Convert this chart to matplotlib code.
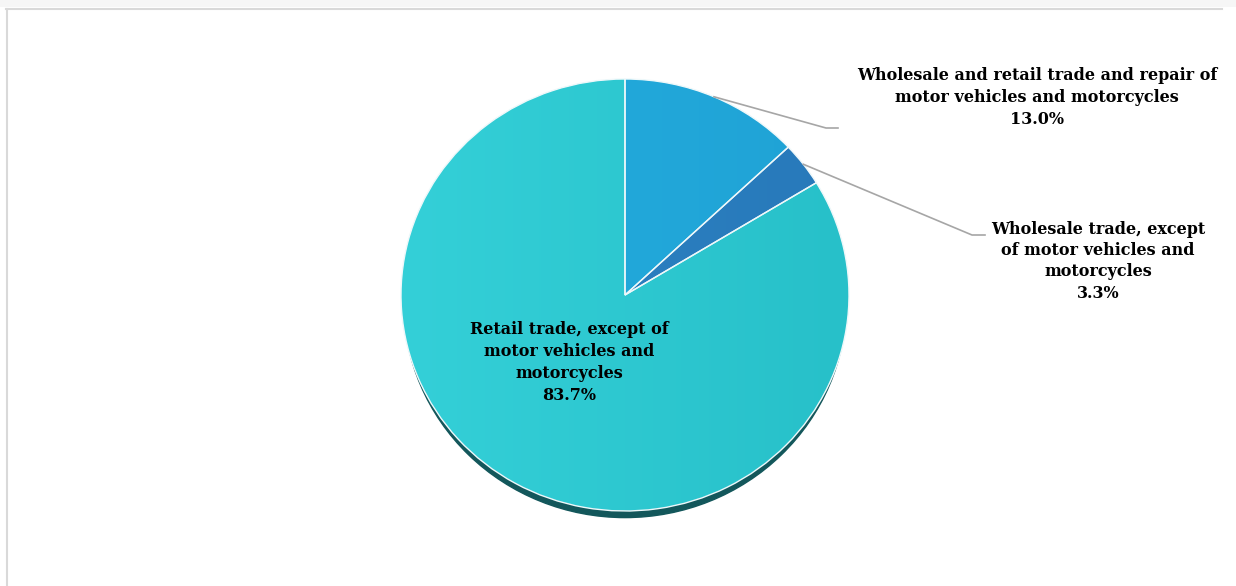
import matplotlib.pyplot as plt
import numpy as np
from matplotlib.patches import Ellipse

# shares of the trade sector, clockwise from 12 o'clock
names = [
    ["Wholesale and retail trade and repair of", "motor vehicles and motorcycles"],
    ["Wholesale trade, except", "of motor vehicles and", "motorcycles"],
    ["Retail trade, except of", "motor vehicles and", "motorcycles"],
]
shares = [13.0, 3.3, 83.7]
colors = ["#22a7da", "#2a7fbf", "#2dc7cf"]
# left / right shades for the soft gradient on each slice
shades = [("#25aedf", "#1fa2d5"), ("#2c84c4", "#2879ba"), ("#34d0d8", "#27c0c9")]

W, H = 1236, 586
fig = plt.figure(figsize=(W / 100, H / 100), dpi=100)

# background layer in pixel units (frame)
bg = fig.add_axes([0, 0, 1, 1])
bg.set_xlim(0, W)
bg.set_ylim(H, 0)
bg.axis("off")
bg.fill_between([0, W], 0, 7, color="#f6f6f6", lw=0)
bg.plot([6, 1222], [8.5, 8.5], color="#d9d9d9", lw=1.5)
bg.plot([6.5, 6.5], [8.5, H], color="#d9d9d9", lw=1.5)

# pie axes, slightly squashed ellipse
cx, cy, rx, ry = 625, 295, 224, 216
pad = 1.1
ax = fig.add_axes([(cx - rx * pad) / W, 1 - (cy + ry * pad) / H,
                   2 * rx * pad / W, 2 * ry * pad / H])
ax.add_patch(Ellipse((0, -0.038), 1.975, 1.985, color="#13575b", zorder=0))
wedges, _ = ax.pie(shares, colors=colors, startangle=90, counterclock=False,
                   radius=1, wedgeprops=dict(edgecolor="#eef8fa", linewidth=1))
for w, (c0, c1) in zip(wedges, shades):
    grad = np.linspace(0, 1, 256).reshape(1, -1)
    cmap = plt.matplotlib.colors.LinearSegmentedColormap.from_list("g", [c0, c1])
    im = ax.imshow(grad, cmap=cmap, extent=(-1, 1, -1, 1), aspect="auto", zorder=w.get_zorder())
    im.set_clip_path(w)
    w.set_facecolor("none")
    w.set_zorder(w.get_zorder() + 0.1)
ax.set_aspect("auto")
ax.set_xlim(-pad, pad)
ax.set_ylim(-pad, pad)
ax.axis("off")

# top layer for labels and leader lines
top = fig.add_axes([0, 0, 1, 1])
top.set_xlim(0, W)
top.set_ylim(H, 0)
top.axis("off")
top.patch.set_alpha(0)

font = dict(family="DejaVu Serif", weight="bold", size=11.5, color="black",
            ha="center", va="center")

# label positions: centre x, first line y, line step
spots = [(1037, 75, 22), (1098, 229, 21.5), (569, 329, 22.3)]
elbows = [[(826, 128), (838, 128)], [(972, 235), (985, 235)], None]

ends = np.cumsum(shares)
for i, (lines, pct) in enumerate(zip(names, shares)):
    x0, y0, step = spots[i]
    for k, line in enumerate(lines + ["%.1f%%" % pct]):
        top.text(x0, y0 + k * step, line, **font)
    if elbows[i]:
        mid = 90 - 3.6 * (ends[i] - pct / 2)
        px = ax.transData.transform((np.cos(np.radians(mid)), np.sin(np.radians(mid))))
        sx, sy = top.transData.inverted().transform(px)
        xs = [sx] + [p[0] for p in elbows[i]]
        ys = [sy] + [p[1] for p in elbows[i]]
        top.plot(xs, ys, color="#a6a6a6", lw=1.2)

fig.savefig("out.png", dpi=100, facecolor="white")
